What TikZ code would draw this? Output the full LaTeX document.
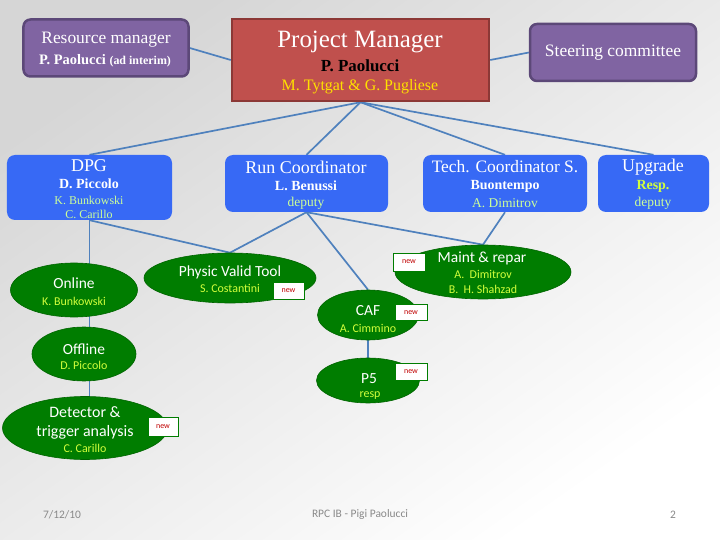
\documentclass[tikz,border=0pt]{standalone}
\usepackage{fontspec}
\setmainfont{Liberation Serif}
\newfontfamily\calfont{Carlito}
\usetikzlibrary{shapes.geometric}
\definecolor{bgtop}{RGB}{214,214,214}
\definecolor{rmfill}{RGB}{128,100,162}
\definecolor{rmdraw}{RGB}{92,72,120}
\definecolor{pmfill}{RGB}{192,80,77}
\definecolor{pmdraw}{RGB}{140,56,54}
\definecolor{bluebox}{RGB}{55,105,245}
\definecolor{greenell}{RGB}{0,125,0}
\definecolor{greendraw}{RGB}{0,100,0}
\definecolor{linecol}{RGB}{79,129,189}
\definecolor{pmyellow}{RGB}{255,225,0}
\definecolor{palegreen}{RGB}{204,255,153}
\definecolor{yg}{RGB}{210,255,60}
\definecolor{newred}{RGB}{192,0,0}
\definecolor{footgray}{RGB}{137,137,137}
\pgfdeclarelayer{back}
\pgfdeclarelayer{lines}
\pgfsetlayers{back,lines,main}
\tikzset{
  purplebox/.style={draw=rmdraw, line width=2.5bp, fill=rmfill, rounded corners=7bp, inner sep=0},
  redbox/.style={draw=pmdraw, line width=2.5bp, fill=pmfill, inner sep=0},
  bluerect/.style={fill=bluebox, rounded corners=8bp, inner sep=0},
  greenell/.style={ellipse, fill=greenell, draw=greendraw, line width=0.6bp, inner sep=0},
  newbox/.style={draw=greenell, line width=0.6bp, fill=white, inner sep=0, minimum width=31bp, minimum height=17bp, text=newred, font=\calfont\fontsize{8}{9}\selectfont},
  txt/.style={inner sep=0, anchor=center},
  conn/.style={draw=linecol, line width=1.7bp},
  foot/.style={inner sep=0, anchor=center, text=footgray, font=\calfont\fontsize{11.5}{13}\selectfont}
}
\newcommand{\fs}[1]{\fontsize{#1}{#1}\selectfont}
\begin{document}
\begin{tikzpicture}[x=1bp,y=-1bp]
\useasboundingbox (0,0) rectangle (720,540);
\begin{pgfonlayer}{back}
\shade[top color=bgtop, bottom color=white, shading angle=35] (0,0) rectangle (720,540);
\end{pgfonlayer}

% top row
\node[purplebox, minimum width=165bp, minimum height=57bp] (rm) at (106,48) {};
\node[redbox, minimum width=257bp, minimum height=82bp] (pm) at (360.5,60) {};
\node[purplebox, minimum width=166bp, minimum height=57bp] (sc) at (613,52.5) {};

\node[txt, text=white, font=\fs{17.5}] (rm1) at (106,40) {Resource manager};
\node[txt, text=white, font=\bfseries\fs{14.5}] (rm2) at (105,61) {P. Paolucci {\fs{12}(ad interim)}};
\node[txt, text=white, font=\fs{25}] (pm1) at (360,42) {Project Manager};
\node[txt, text=black, font=\bfseries\fs{17}] (pm2) at (360,66) {P. Paolucci};
\node[txt, text=pmyellow, font=\fs{16}] (pm3) at (360,87) {M. Tytgat \& G. Pugliese};
\node[txt, text=white, font=\fs{17.5}] (sc1) at (613,53) {Steering committee};

% second row
\node[bluerect, minimum width=165bp, minimum height=65bp] (dpg) at (89.5,187.5) {};
\node[bluerect, minimum width=163bp, minimum height=57bp] (rc) at (306.5,183.5) {};
\node[bluerect, minimum width=164bp, minimum height=57bp] (tc) at (505,183.5) {};
\node[bluerect, minimum width=111bp, minimum height=57bp] (up) at (653.5,183.5) {};

\node[txt, text=white, font=\fs{18}] (dpg1) at (89,166) {DPG};
\node[txt, text=white, font=\bfseries\fs{14}] (dpg2) at (89,184) {D. Piccolo};
\node[txt, text=palegreen, font=\fs{12}] (dpg3) at (89,200) {K. Bunkowski};
\node[txt, text=palegreen, font=\fs{12}] (dpg4) at (89,214) {C. Carillo};

\node[txt, text=white, font=\fs{18}] (rc1) at (306,167) {Run Coordinator};
\node[txt, text=white, font=\bfseries\fs{14}] (rc2) at (306,186) {L. Benussi};
\node[txt, text=palegreen, font=\fs{13.5}] (rc3) at (306,203) {deputy};

\node[txt, text=white, font=\fs{17.5}] (tc1) at (505,167) {Tech. Coordinator S.};
\node[txt, text=white, font=\bfseries\fs{14}] (tc2) at (505,186) {Buontempo};
\node[txt, text=palegreen, font=\fs{13.5}] (tc3) at (505,203) {A. Dimitrov};

\node[txt, text=white, font=\fs{18}] (up1) at (653,167) {Upgrade};
\node[txt, text=yg, font=\bfseries\fs{14}] (up2) at (653,186) {Resp.};
\node[txt, text=palegreen, font=\fs{13.5}] (up3) at (653,203) {deputy};

% ellipses
\node[greenell, minimum width=127bp, minimum height=54bp] (online) at (74,290) {};
\node[greenell, minimum width=172bp, minimum height=50bp] (pvt) at (230,278) {};
\node[greenell, minimum width=104bp, minimum height=54bp] (offline) at (84,354) {};
\node[greenell, minimum width=165bp, minimum height=63bp] (det) at (85,428) {};
\node[greenell, minimum width=176bp, minimum height=54bp] (maint) at (483,272) {};
\node[greenell, minimum width=101bp, minimum height=50bp] (caf) at (368,315) {};
\node[greenell, minimum width=103bp, minimum height=45bp] (p5) at (368,380.5) {};

\node[txt, text=white, font=\calfont\fs{15.5}] (on1) at (74,283) {Online};
\node[txt, text=yg, font=\calfont\fs{12}] (on2) at (74,301) {K. Bunkowski};
\node[txt, text=white, font=\calfont\fs{15.5}] (pvt1) at (230,272) {Physic Valid Tool};
\node[txt, text=yg, font=\calfont\fs{12}] (pvt2) at (230,288) {S. Costantini};
\node[txt, text=white, font=\calfont\fs{15.5}] (off1) at (84,349) {Offline};
\node[txt, text=yg, font=\calfont\fs{12}] (off2) at (84,365) {D. Piccolo};
\node[txt, text=white, font=\calfont\fs{16}] (det1) at (85,412) {Detector \&};
\node[txt, text=white, font=\calfont\fs{16}] (det2) at (85,432) {trigger analysis};
\node[txt, text=yg, font=\calfont\fs{12}] (det3) at (85,448) {C. Carillo};
\node[txt, text=white, font=\calfont\fs{15.5}] (ma1) at (482,258) {Maint \& repar};
\node[txt, text=yg, font=\calfont\fs{12}] (ma2) at (483,274) {A.\ \ Dimitrov};
\node[txt, text=yg, font=\calfont\fs{12}] (ma3) at (483,289) {B.\ \ H. Shahzad};
\node[txt, text=white, font=\calfont\fs{15.5}] (caf1) at (368,311) {CAF};
\node[txt, text=yg, font=\calfont\fs{12}] (caf2) at (368,328) {A. Cimmino};
\node[txt, text=white, font=\calfont\fs{15.5}] (p51) at (369,379) {P5};
\node[txt, text=yg, font=\calfont\fs{12}] (p52) at (370,396) {resp};

% new boxes
\node[newbox] (npvt) at (288.5,290.5) {new};
\node[newbox, minimum width=32bp, minimum height=18bp] (nma) at (409,262) {new};
\node[newbox, minimum width=32bp, minimum height=16bp] (ncaf) at (411,312.5) {new};
\node[newbox, minimum width=32bp] (np5) at (411,371.5) {new};
\node[newbox, minimum width=30bp, minimum height=19bp] (ndet) at (163,426.5) {new};

% connectors
\begin{pgfonlayer}{lines}
\draw[conn] (rm.east) -- (pm.west);
\draw[conn] (pm.east) -- (sc.west);
\draw[conn] (pm.south) -- (dpg.north);
\draw[conn] (pm.south) -- (rc.north);
\draw[conn] (pm.south) -- (tc.north);
\draw[conn] (pm.south) -- (up.north);
\draw[conn] (dpg.south) -- (dpg.south |- online.center);
\draw[conn] (dpg.south |- online.center) -- (dpg.south |- offline.center);
\draw[conn] (dpg.south |- offline.center) -- (dpg.south |- det.center);
\draw[conn] (dpg.south) -- (pvt.north);
\draw[conn] (rc.south) -- (pvt.north);
\draw[conn] (rc.south) -- (caf.north);
\draw[conn] (rc.south) -- (maint.north);
\draw[conn] (tc.south) -- (maint.north);
\draw[conn] (caf.south) -- (p5.north);
\end{pgfonlayer}

% footer
\node[foot] (f1) at (62,515) {7/12/10};
\node[foot] (f2) at (360,515) {RPC IB - Pigi Paolucci};
\node[foot] (f3) at (673,515) {2};
\end{tikzpicture}
\end{document}
